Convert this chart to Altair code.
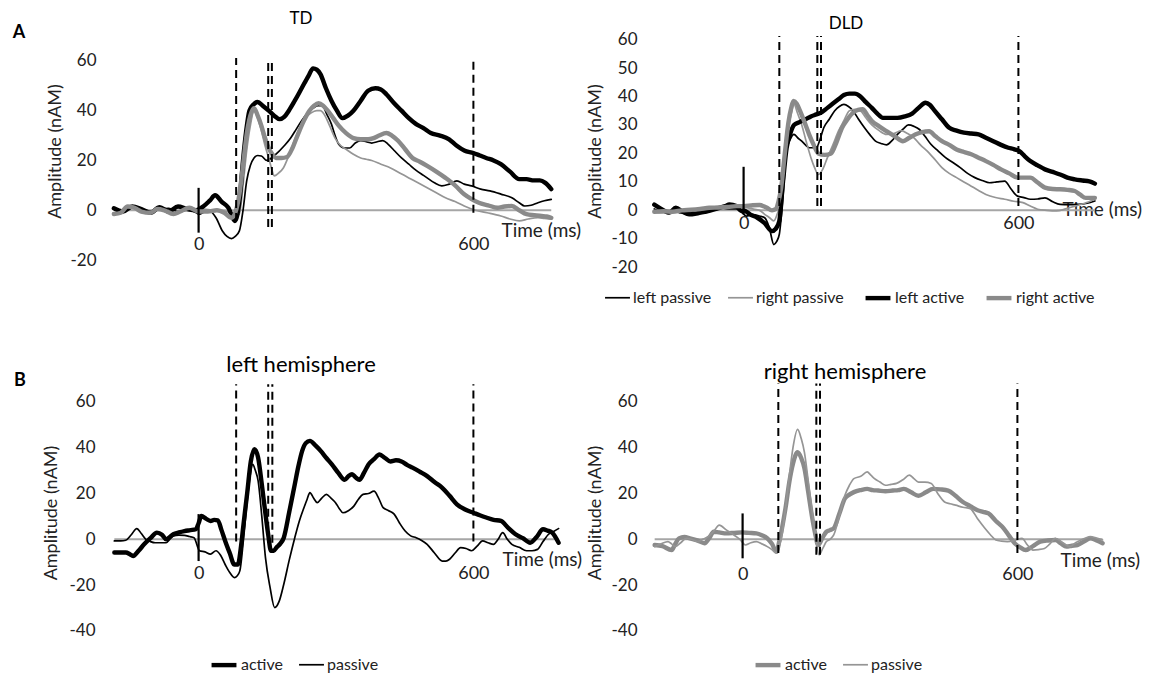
import altair as alt
import pandas as pd

FONT = "Lato"
BLACK = "#000000"
GRAY_THICK = "#8a8a8a"
GRAY_THIN = "#959595"
ZERO_GRAY = "#a6a6a6"
TXT = "#222222"

X_DOMAIN = [-200, 800]
PLOT_W = 458

# ---------------- data: (time ms, amplitude nAM) ----------------
TD_LEFT_PASSIVE = [(-185,0.5),(-165,-0.5),(-145,1),(-125,0),(-105,-1),(-85,0.5),(-65,0.8),(-45,-0.5),(-25,0),(-5,-1),(0,-1.6),(12,-0.8),(24,-0.3),(38,-3),(52,-8.3),(62,-10.5),(72,-11.4),(80,-10.5),(89,-8.3),(97,0),(105,11.8),(113,18),(121,21),(129,22),(137,21.8),(149,20),(159,21),(169,22.5),(185,25.5),(201,29),(213,32.5),(225,36),(238,39),(250,41),(260,42),(270,42),(280,38.5),(290,34.6),(298,30),(306,26.5),(318,25),(330,25),(342,27),(354,28),(366,27.5),(378,27),(390,27.5),(402,28),(414,26.5),(427,24),(443,21),(459,18.5),(475,16),(491,14),(499,13),(515,11),(531,9.8),(547,10.5),(564,11.8),(580,10.5),(596,9.8),(616,8.5),(636,7.8),(660,6.5),(684,5),(700,3),(712,1.7),(726,2),(741,3),(755,3.8),(770,4.4)]
TD_RIGHT_PASSIVE = [(-185,-1.5),(-165,0),(-145,1),(-125,-0.5),(-105,-1),(-85,0.5),(-65,-0.5),(-45,-1),(-25,0),(-5,-0.5),(10,0.5),(30,0),(45,-0.5),(56,-0.3),(72,-1),(89,-1.6),(97,10),(105,24),(113,34),(121,40),(129,37),(137,32),(145,26),(153,21),(159,17),(165,13.8),(175,15),(185,17),(197,22),(209,28),(221,33),(233,37),(245,39),(258,40),(266,40),(274,38.6),(286,34),(298,29),(310,26),(322,24.5),(338,22.5),(354,21),(366,20.5),(378,20),(398,18.5),(419,17),(439,15),(459,13),(479,11),(499,9),(519,7),(539,5),(560,3.5),(580,1.7),(604,0),(630,-1),(660,-2.3),(680,-3.5),(700,-4.3),(720,-3.5),(741,-3),(755,-3.3),(770,-3.6)]
TD_LEFT_ACTIVE = [(-185,0.8),(-165,-0.5),(-145,1.5),(-125,0.5),(-105,-1),(-85,1.2),(-65,-0.5),(-45,1.5),(-25,0.5),(-5,0),(10,1.5),(25,4),(36,6),(50,3.5),(65,1),(79,-4.3),(90,5),(97,20),(104,32),(111,40),(120,42.5),(129,43.5),(140,42),(153,40),(165,38),(177,36.6),(187,37.5),(197,40),(210,44),(225,49),(240,54),(250,57),(258,56.5),(266,54.7),(278,49),(290,44),(302,40),(314,37),(326,38),(338,40),(354,44),(370,48),(386,49),(398,48.5),(410,46.6),(427,43),(443,40),(459,37),(475,34.6),(491,33),(507,31),(527,30),(547,28.5),(563,26),(580,24),(600,23),(614,22),(628,21),(644,20),(660,18.5),(680,15.5),(700,12.5),(716,12.5),(732,12),(745,12),(757,11),(770,8.5)]
TD_RIGHT_ACTIVE = [(-185,-1.5),(-170,-1),(-155,1.5),(-140,1),(-125,-0.5),(-105,-1),(-90,0.5),(-75,0),(-55,-1.5),(-40,-0.5),(-20,1),(0,-0.5),(20,-0.5),(40,0),(56,-1),(72,-3),(80,-1),(89,6.4),(97,18),(105,30.5),(113,38),(121,41),(129,38),(137,34),(145,29),(153,25),(161,22.5),(169,21),(181,21),(193,21.4),(205,25),(217,30.5),(230,36),(242,40),(252,42),(262,43),(272,42),(282,40),(294,37),(306,34),(322,31),(338,29),(354,28.5),(370,28.5),(382,29),(394,30),(410,31),(422,30),(435,28),(451,24.5),(467,21),(483,19.5),(499,17.8),(519,15.5),(539,13),(560,10),(580,6.4),(596,4.5),(612,3),(632,2),(652,1),(668,1.5),(684,1.7),(700,0),(716,-1.6),(733,-2),(749,-2.3),(760,-2.5),(770,-3)]

DLD_LEFT_PASSIVE = [(-195,0.5),(-175,-0.5),(-155,0),(-135,-1),(-115,-0.5),(-95,0.5),(-75,0),(-55,1),(-35,0.5),(-15,0.5),(-5,-0.5),(6,-2),(20,-1.5),(35,-2),(46,-2.6),(56,-6),(66,-12),(72,-11),(78,-8.4),(86,5),(94,21),(102,25),(110,26.7),(118,25.5),(127,24.3),(135,23),(143,22),(151,22),(159,22),(167,25),(175,29),(187,32),(199,35),(209,36.5),(219,37.2),(229,36.5),(239,35),(251,32),(264,29),(276,26.5),(288,24.3),(300,23.5),(312,23),(324,24.5),(336,26.7),(348,28.5),(360,30),(372,29.5),(384,28.4),(396,26),(409,23.2),(425,20.8),(441,18.5),(457,16.8),(473,15),(489,13),(505,11.5),(521,10.5),(537,9.7),(553,10),(570,10.3),(584,7.5),(598,5),(612,4.5),(626,3.9),(642,4),(658,4.4),(675,3),(691,2.1),(711,2),(731,2.1),(750,2.5),(767,3.3)]
DLD_RIGHT_PASSIVE = [(-195,-0.5),(-175,-0.8),(-155,-0.3),(-135,-0.8),(-115,0),(-95,0.3),(-75,0.5),(-55,0.8),(-35,1),(-15,1.2),(0,1),(20,0.5),(35,0),(46,-1.4),(56,-2.5),(66,-3.7),(74,-1),(82,3.3),(90,16),(98,29),(104,34),(110,37.2),(118,34),(127,30),(137,24),(147,18.5),(155,15),(163,12.6),(173,14.5),(183,18.5),(195,23),(207,27.8),(219,31.5),(231,35),(243,35.5),(255,35),(267,32.5),(280,30),(296,28),(312,26.7),(328,27),(344,28),(358,27),(372,25.5),(386,23),(401,20.8),(417,18),(433,15),(449,13),(465,11.5),(481,10),(497,8.5),(513,7),(529,5.6),(550,4.5),(570,3.9),(590,3.2),(610,2.7),(626,1.5),(642,0.4),(662,0),(683,-0.2),(703,0.5),(723,1.5),(745,2.5),(767,3.9)]
DLD_LEFT_ACTIVE = [(-195,2),(-180,0.5),(-162,-0.8),(-148,0.9),(-133,-0.5),(-119,-1.4),(-100,-1),(-85,-0.5),(-75,-0.2),(-55,0.8),(-40,1.5),(-31,2.1),(-16,1.5),(-5,-0.2),(0,0),(15,-1.5),(30,-2.6),(46,-4.5),(62,-7.3),(70,-6.5),(78,-3.7),(86,10),(94,22),(102,27),(110,30),(122,31),(135,32),(147,33),(159,33.7),(171,34.5),(183,36),(195,37.5),(207,39),(219,40.5),(231,41),(243,41),(255,40),(267,38),(280,36),(292,34),(304,32.5),(320,32.5),(336,32.5),(352,33),(368,34),(382,36),(397,37.8),(407,37),(417,35),(433,32),(449,29),(465,28),(481,27.3),(497,27),(513,26.7),(529,25.5),(545,24.3),(562,23),(578,22),(590,21.5),(602,20.8),(614,19),(626,17.3),(642,15.8),(658,14.4),(675,13.5),(691,12.6),(707,11.5),(723,10.9),(740,10.5),(755,10.2),(767,9.4)]
DLD_RIGHT_ACTIVE = [(-195,-0.5),(-175,-0.3),(-155,-0.5),(-135,0),(-115,0.2),(-95,0.5),(-75,0.9),(-55,1),(-35,1.2),(-15,1.5),(0,1.5),(20,1.8),(35,1.9),(50,1),(62,0),(70,0.4),(76,3),(82,8),(90,20),(98,31),(104,36),(109,38.4),(116,37.5),(123,35),(133,31),(143,26.7),(153,23),(163,20),(177,19.5),(191,20),(203,24),(215,29),(227,32),(239,34.3),(250,35.3),(260,35.5),(270,33.5),(280,31.4),(296,29.5),(312,27.8),(330,26),(348,24.3),(362,25.5),(376,26.7),(390,27.5),(405,27.8),(419,26),(433,24.3),(449,23),(465,21.4),(481,20.5),(497,19.7),(513,18.5),(529,17.3),(545,16),(562,14.4),(580,13),(598,11.5),(612,11.5),(626,11.5),(642,9.8),(658,8),(675,7.5),(691,7.4),(707,7.2),(723,6.8),(735,5.5),(747,4.4),(767,4.4)]

LH_ACTIVE = [(-184,-5.8),(-170,-5.8),(-159,-5.8),(-150,-6.5),(-143,-7.3),(-131,-5),(-119,-2.2),(-105,0.5),(-91,2.9),(-80,2),(-71,0),(-63,1),(-55,2.2),(-43,3),(-31,3.6),(-18,4),(-6,4.4),(0,7),(6,10.2),(16,9),(26,8),(34,8.5),(42,8.3),(50,4),(58,-0.7),(68,-6),(78,-11),(86,-11),(92,-4),(98,6.5),(106,20),(114,34),(122,39.3),(130,35.6),(138,24),(146,11),(152,2),(158,-5),(164,-5),(170,-3.6),(178,-2),(186,0.7),(198,12),(210,24),(218,32),(226,38.5),(234,42),(243,43),(255,41),(267,38.5),(279,35.5),(291,32.7),(305,29),(319,26),(327,27.5),(335,28.4),(343,27),(351,26),(361,29),(371,32.7),(383,35),(395,37),(407,35.5),(419,34),(431,34.5),(443,34),(455,32.5),(467,31.3),(483,29.5),(499,27.6),(515,25),(532,22.5),(548,19),(564,15.3),(582,13),(600,11.6),(614,10.5),(628,9.5),(644,8.5),(660,8),(676,5),(692,2.2),(708,0.5),(724,-1.5),(738,1),(752,4.4),(762,3.8),(772,2.9),(786,-1.5)]
LH_PASSIVE = [(-184,-0.7),(-170,-0.7),(-159,-0.4),(-147,2),(-135,4.7),(-125,2.5),(-115,0),(-105,-1),(-95,-1.5),(-83,-1.5),(-71,-1.5),(-63,0),(-55,1.5),(-43,1.8),(-31,1.7),(-20,1.2),(-10,0.7),(2,-5),(14,-5.5),(26,-6.5),(38,-5),(48,-7),(58,-11),(68,-14.5),(78,-16.7),(84,-16),(90,-13.8),(98,0),(106,16.7),(112,27),(118,32.7),(124,30),(130,25.5),(138,10),(146,-8),(156,-21),(166,-29.8),(176,-27),(186,-19.6),(198,-9),(210,0.7),(220,8),(230,13.8),(237,17.5),(243,20.4),(251,18),(259,16),(269,18),(279,19.6),(289,18),(299,16),(307,13.5),(315,11.6),(327,12.5),(339,14.5),(349,17.5),(359,19.6),(371,20),(383,21),(393,18),(403,13.8),(415,12.5),(427,11),(439,7),(451,3.6),(463,1.5),(475,0.7),(487,-0.5),(499,-2.2),(515,-6),(532,-9.5),(540,-9.5),(548,-8.7),(560,-6),(572,-3.6),(584,-4),(596,-5),(608,-3),(620,-0.7),(632,-1.5),(644,-2.2),(654,0),(664,2.9),(674,0),(684,-2.2),(700,-3.5),(716,-5),(728,-5),(740,-4.4),(752,-1),(764,2.2),(776,3.5),(786,4.7)]

RH_ACTIVE = [(-192,-2.5),(-175,-3),(-155,-4.7),(-147,-2),(-139,0.4),(-127,1),(-115,0.4),(-99,-0.5),(-83,-1.7),(-73,0.5),(-63,3.3),(-51,3),(-35,2.6),(-18,2.8),(-2,3),(14,2.8),(30,2.6),(42,1.8),(54,0.4),(64,-2),(74,-5.4),(80,-1),(86,4.8),(94,14),(102,25),(110,33),(120,38),(128,35.5),(135,31),(143,21),(151,10.6),(158,3),(165,-2.5),(174,0.5),(183,3.3),(191,4),(199,4.8),(211,11),(223,17.7),(233,19.5),(243,20.6),(258,21.5),(272,22),(284,21.5),(296,21.3),(312,21),(328,21.3),(340,21.5),(352,22),(368,20.5),(384,19),(400,20.5),(416,22),(432,21.8),(449,21.3),(465,19),(481,16.3),(497,14.5),(513,12.7),(525,12),(537,11.3),(553,8),(570,4.8),(582,1.5),(594,-1.7),(606,-3.5),(618,-4.7),(634,-3),(650,-1),(667,-0.5),(683,-0.3),(695,-1.8),(707,-3.2),(719,-2.8),(731,-2.5),(745,-1),(759,0.4),(773,-0.5),(786,-1.7)]
RH_PASSIVE = [(-192,-3.2),(-178,-2),(-163,-1),(-155,-2),(-147,-3.2),(-135,-1.5),(-123,0.4),(-111,0),(-99,-1),(-87,0),(-75,1.2),(-63,3.5),(-51,6.2),(-35,4),(-19,1.9),(-6,0),(6,-2.5),(18,-1.5),(30,-1),(42,-2),(54,-3.2),(64,-4.5),(74,-6),(80,-3),(86,1.9),(94,14),(102,27.7),(110,40),(120,48),(128,44),(135,38),(143,26),(151,13.4),(159,2),(167,-6.8),(175,-4),(183,-1),(191,0),(199,1.9),(211,10),(223,19),(233,23.5),(243,26.5),(258,27.5),(272,29.4),(280,28),(288,26.5),(300,25),(312,23.6),(324,24),(336,24.4),(350,26),(364,28),(374,26.5),(384,25),(398,25),(412,24.4),(426,20),(441,16.3),(453,15.5),(465,14.9),(481,14),(497,13.4),(513,9),(529,4.8),(541,2),(553,-0.3),(565,-0.8),(578,-1),(594,-0.5),(610,0.4),(622,-2.5),(634,-4.7),(646,-4.5),(659,-4),(671,-2),(683,0.4),(699,-1.5),(715,-3.2),(727,-1.5),(739,-0.3),(749,0.5),(759,1.2),(773,0.5),(786,-0.3)]

# analysis windows (ms) and the vertical reach of their dashed markers (nAM)
TD_WINDOWS = [82, 152, 160, 600]
TD_WIN_LO = [-4.3, -6.7, -6.7, -1]
DLD_WINDOWS = [78, 161, 169, 600]
DLD_WIN_LO = [1.5, 1.5, 1.5, 1.5]
LH_WINDOWS = [82, 152, 161, 600]
LH_WIN_LO = [-1, -1.5, -1.5, -1]
RH_WINDOWS = [78, 161, 169, 600]
RH_WIN_LO = [-6, -6.8, -6.8, -6]

A_NAMES = ["left passive", "right passive", "left active", "right active"]
B_NAMES = ["active", "passive"]
X_TICKS = [0, 600]


def make_panel(title, title_size, title_off, series, names, colors, widths, ydom, height, yticks,
               windows, win_lo, win_hi, stim_lo, stim_hi, x_off, title_x,
               lab_pad, title_pad, legend_xy=None, letter=None):
    frames = []
    for name, pairs in zip(names, series):
        frames.append(pd.DataFrame({"t": [p[0] for p in pairs],
                                    "v": [p[1] for p in pairs],
                                    "series": name}))
    df = pd.concat(frames, ignore_index=True)
    tmin, tmax = df["t"].min(), df["t"].max()

    xs = alt.Scale(domain=X_DOMAIN, nice=False, zero=False)
    ys = alt.Scale(domain=ydom, nice=False, zero=False)
    xaxis = alt.Axis(values=X_TICKS, labelExpr="datum.value + ''", domain=False, ticks=False,
                     grid=False, labelFontSize=18, labelPadding=2, labelFlush=False, offset=x_off,
                     labelColor=TXT, title="Time (ms)", titleFontSize=19,
                     titleFontWeight="normal", titleColor=TXT, titleAlign="left",
                     titleBaseline="middle", titleX=title_x, titleY=-3)
    yaxis = alt.Axis(values=yticks, labelExpr="datum.value + ''", domain=False, ticks=False,
                     grid=False, labelFontSize=17, labelPadding=lab_pad, labelColor=TXT,
                     title="Amplitude (nAM)", titleFontSize=18, titleFontWeight="normal",
                     titleColor=TXT, titlePadding=title_pad)

    zero_df = pd.DataFrame({"t": [tmin], "t2": [tmax], "v": [0]})
    zero = alt.Chart(zero_df).mark_rule(color=ZERO_GRAY, strokeWidth=2).encode(
        x=alt.X("t:Q", scale=xs, axis=xaxis), x2="t2:Q",
        y=alt.Y("v:Q", scale=ys, axis=yaxis))

    if legend_xy is not None:
        leg = alt.Legend(title=None, orient="none", legendX=legend_xy[0], legendY=legend_xy[1],
                         direction="horizontal", symbolType="stroke", symbolSize=620,
                         labelFontSize=16, labelOffset=2, columnPadding=12, labelColor=TXT)
    else:
        leg = None
    lines = alt.Chart(df).mark_line(interpolate="monotone", strokeCap="round",
                                    strokeJoin="round").encode(
        x=alt.X("t:Q", scale=xs, axis=xaxis),
        y=alt.Y("v:Q", scale=ys, axis=yaxis),
        color=alt.Color("series:N", scale=alt.Scale(domain=names, range=colors), legend=leg),
        strokeWidth=alt.StrokeWidth("series:N",
                                    scale=alt.Scale(type="ordinal", domain=names, range=widths),
                                    legend=leg),
    )

    win_df = pd.DataFrame({"t": windows, "v": win_lo, "v2": [win_hi] * len(windows)})
    wins = alt.Chart(win_df).mark_rule(color=BLACK, strokeWidth=2, strokeDash=[8, 5]).encode(
        x=alt.X("t:Q", scale=xs, axis=xaxis),
        y=alt.Y("v:Q", scale=ys, axis=yaxis), y2="v2:Q")

    stim_df = pd.DataFrame({"t": [0], "v": [stim_lo], "v2": [stim_hi]})
    stim = alt.Chart(stim_df).mark_rule(color=BLACK, strokeWidth=2.2).encode(
        x=alt.X("t:Q", scale=xs, axis=xaxis),
        y=alt.Y("v:Q", scale=ys, axis=yaxis), y2="v2:Q")

    layers = [zero, lines, wins, stim]
    if letter is not None:
        let_df = pd.DataFrame({"label": [letter[0]]})
        layers.append(alt.Chart(let_df).mark_text(fontSize=18, fontWeight="bold", color=BLACK,
                                                  align="center", baseline="middle").encode(
            text="label:N", x=alt.value(letter[1]), y=alt.value(letter[2])))

    return alt.layer(*layers).properties(
        width=PLOT_W, height=height,
        title=alt.TitleParams(title, fontSize=title_size, fontWeight="normal", color=BLACK,
                              anchor="middle", dx=-35, offset=title_off))


H1 = 244
H2 = 267
td = make_panel("TD", 17, -4, [TD_LEFT_PASSIVE, TD_RIGHT_PASSIVE, TD_LEFT_ACTIVE, TD_RIGHT_ACTIVE],
                A_NAMES, [BLACK, GRAY_THIN, BLACK, GRAY_THICK], [1.7, 1.7, 4.4, 4.4],
                [-25.2, 72.8], H1, [-20, 0, 20, 40, 60],
                TD_WINDOWS, TD_WIN_LO, 61.2, -9, 9, -39.5, 394, 11, 5,
                letter=("A", -88, 4))
dld = make_panel("DLD", 17, -4, [DLD_LEFT_PASSIVE, DLD_RIGHT_PASSIVE, DLD_LEFT_ACTIVE, DLD_RIGHT_ACTIVE],
                 A_NAMES, [BLACK, GRAY_THIN, BLACK, GRAY_THICK], [1.7, 1.7, 4.4, 4.4],
                 [-22.0, 63.7], H1, [-20, -10, 0, 10, 20, 30, 40, 50, 60],
                 DLD_WINDOWS, DLD_WIN_LO, 61.2, -1.4, 15.3, -60.5, 410, 15, 6,
                 legend_xy=(-48, 254))
lh = make_panel("left hemisphere", 22, -5, [LH_ACTIVE, LH_PASSIVE], B_NAMES, [BLACK, BLACK], [4.4, 1.7],
                [-46.6, 70], H2, [-40, -20, 0, 20, 40, 60],
                LH_WINDOWS, LH_WIN_LO, 67.7, -9.5, 11, -83.5, 395, 12, 8,
                legend_xy=(102, 271), letter=("B", -87, 2))
rh = make_panel("right hemisphere", 22, -5, [RH_ACTIVE, RH_PASSIVE], B_NAMES, [GRAY_THICK, GRAY_THIN],
                [4.4, 1.7], [-46.6, 70], H2, [-40, -20, 0, 20, 40, 60],
                RH_WINDOWS, RH_WIN_LO, 68, -8.3, 11.3, -83, 409, 14, 6,
                legend_xy=(102, 271))

RES = dict(x="independent", y="independent", color="independent", strokeWidth="independent")
row1 = alt.hconcat(td, dld, spacing=5).resolve_scale(**RES).resolve_legend(
    color="independent", strokeWidth="independent")
row2 = alt.hconcat(lh, rh, spacing=4).resolve_scale(**RES).resolve_legend(
    color="independent", strokeWidth="independent")
chart = alt.vconcat(row1, row2, spacing=47).resolve_scale(**RES).resolve_legend(
    color="independent", strokeWidth="independent").properties(
    padding={"left": 4, "top": 2, "right": 0, "bottom": 0}, background="white"
).configure_view(stroke=None).configure_axis(labelFont=FONT, titleFont=FONT).configure_title(
    font=FONT).configure_legend(labelFont=FONT).configure_text(font=FONT)

chart.save("out.html", embed_options={"renderer": "svg", "actions": False})
